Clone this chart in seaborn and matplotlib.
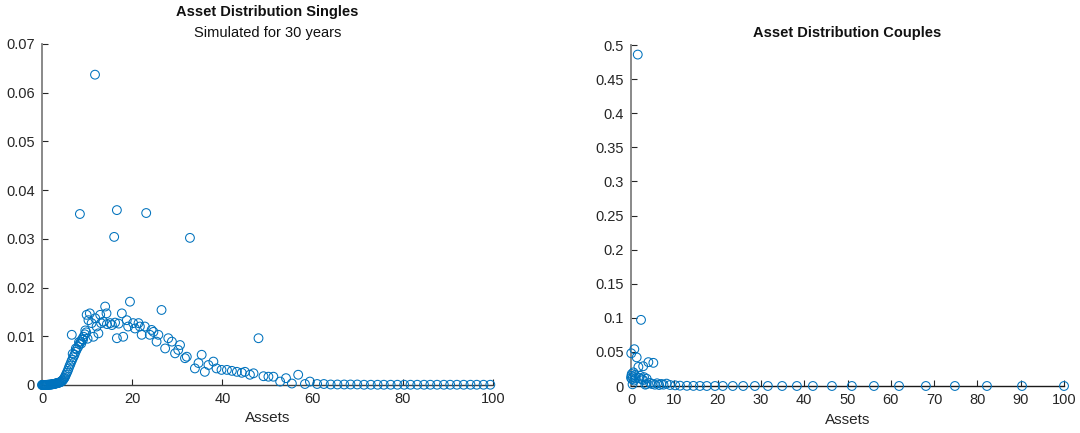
import matplotlib
matplotlib.use("Agg")
import matplotlib.pyplot as plt
import seaborn as sns
import pandas as pd

# Singles: asset grid point and share of households
singles_assets = [
    0.0, 0.08, 0.16, 0.25, 0.35, 0.45, 0.55, 0.66, 0.78, 0.9, 1.02, 1.15, 1.28, 1.42,
    1.56, 1.7, 1.85, 2.0, 2.15, 2.3, 2.45, 2.6, 2.75, 2.9, 3.05, 3.2, 3.35, 3.5, 3.65,
    3.8, 3.95, 4.1, 4.25, 4.4, 4.55, 4.7, 4.85, 5.0, 5.15, 5.3, 5.5, 5.7, 5.9, 6.1,
    6.3, 6.5, 6.7, 6.95, 7.2, 7.45, 7.7, 8.0, 8.3, 8.6, 8.9, 9.2, 9.5, 9.8,
    6.6, 6.8, 7.5, 8.2, 8.7, 9.1, 9.6, 10.1,
    9.9, 10.3, 10.6, 11.0, 11.4, 11.8, 12.1, 12.5, 12.9, 13.1, 13.6, 14.0, 14.3, 14.4,
    15.1, 15.5, 16.2, 16.6, 17.0, 17.7, 18.0, 18.8, 19.1, 19.5, 20.2, 20.6, 21.4, 21.7,
    22.1, 22.8, 23.9, 24.3, 24.7, 25.4, 25.8, 26.5, 27.3, 28.0, 28.8, 29.5, 30.2, 30.6,
    31.7, 32.1, 33.9, 34.7, 35.4, 36.1, 36.9, 38.0, 38.7, 39.8, 41.0, 42.1, 43.2, 44.3,
    45.0, 46.1, 46.9, 48.0, 49.1, 50.2, 51.3, 52.8, 54.1, 55.4, 56.8, 58.3, 59.4,
    8.4, 11.75, 16.0, 16.6, 23.1, 32.8,
    61.0, 62.5, 64.0, 65.5, 67.0, 68.4, 69.9, 71.4, 72.9, 74.4, 75.8, 77.3, 78.8, 80.3,
    81.7, 83.2, 84.7, 86.1, 87.6, 89.1, 90.5, 92.0, 93.5, 95.0, 96.4, 97.9, 99.4,
]
singles_share = [
    0.0, 0.0, 0.0, 0.0, 0.0, 0.0, 0.00001, 0.00001, 0.00002, 0.00002, 0.00002, 0.00003,
    0.00004, 0.00005, 0.00006, 0.00007, 0.00008, 0.0001, 0.00012, 0.00014, 0.00017,
    0.0002, 0.00023, 0.00026, 0.0003, 0.00034, 0.00038, 0.0004, 0.00045, 0.0005,
    0.00055, 0.0006, 0.0007, 0.0008, 0.0009, 0.0011, 0.0013, 0.0015, 0.0018, 0.0021,
    0.0025, 0.0029, 0.0034, 0.0039, 0.0043, 0.0048, 0.0052, 0.0057, 0.0062, 0.0068,
    0.0073, 0.0078, 0.0084, 0.0089, 0.0094, 0.0099, 0.0104, 0.0108,
    0.0103, 0.0064, 0.0075, 0.0088, 0.0085, 0.0093, 0.0112, 0.0095,
    0.0144, 0.0133, 0.0147, 0.0127, 0.0099, 0.0137, 0.0120, 0.0106, 0.0144, 0.0127,
    0.0130, 0.0161, 0.0147, 0.0125, 0.0127, 0.0123, 0.0128, 0.0096, 0.0126, 0.0147,
    0.0099, 0.0133, 0.0120, 0.0171, 0.0127, 0.0116, 0.0127, 0.0120, 0.0103, 0.0120,
    0.0103, 0.0113, 0.0109, 0.0089, 0.0103, 0.0154, 0.0075, 0.0096, 0.0089, 0.0065,
    0.0072, 0.0082, 0.0055, 0.0058, 0.0034, 0.0045, 0.0062, 0.0027, 0.0041, 0.0048,
    0.0034, 0.0031, 0.0031, 0.0029, 0.0027, 0.0025, 0.0027, 0.0021, 0.0024, 0.0096,
    0.0018, 0.0017, 0.0017, 0.0007, 0.0014, 0.0003, 0.0021, 0.0002, 0.0007,
    0.0351, 0.0637, 0.0304, 0.0359, 0.0353, 0.0302,
    0.0002, 0.0002, 0.0001, 0.0001, 0.0001, 0.0001, 0.0001, 0.00005, 0.00005, 0.00005,
    0.00005, 0.00005, 0.00005, 0.00005, 0.00005, 0.00005, 0.00005, 0.00005, 0.00005,
    0.00005, 0.00005, 0.00005, 0.00005, 0.00005, 0.00005, 0.00005, 0.00005,
]

# Couples: asset grid point and share of households
couples_assets = [
    0.0, 0.05, 0.1, 0.16, 0.25, 0.35, 0.45, 0.55, 0.7, 0.76, 0.9, 1.05, 1.3, 1.55,
    1.7, 1.9, 2.1, 2.3, 2.5, 2.8, 2.8, 3.0, 3.3, 3.6, 3.6, 4.0, 4.4, 4.8, 5.15, 5.5,
    6.0, 6.5, 7.0, 7.5, 8.2, 9.0, 10.2, 11.3, 12.9, 14.4, 15.9, 17.5, 19.4, 21.2,
    23.5, 25.9, 28.6, 31.6, 34.9, 38.3, 42.0, 46.4, 51.0, 56.1, 61.9, 68.1, 74.8,
    82.2, 90.3, 100.0,
]
couples_share = [
    0.012, 0.048, 0.015, 0.0176, 0.010, 0.0025, 0.013, 0.020, 0.008, 0.054, 0.016,
    0.011, 0.042, 0.486, 0.028, 0.012, 0.015, 0.097, 0.010, 0.029, 0.0088, 0.013,
    0.002, 0.0107, 0.003, 0.035, 0.0045, 0.003, 0.034, 0.002, 0.004, 0.0015, 0.003,
    0.002, 0.0035, 0.0015, 0.001, 0.0005, 0.0003, 0.0002, 0.0001, 0.00005, 0.00005,
    0.00005, 0.00005, 0.00005, 0.00005, 0.00005, 0.00005, 0.00005, 0.00005, 0.00005,
    0.00005, 0.00005, 0.00005, 0.00005, 0.00005, 0.00005, 0.00005, 0.00005,
]

singles_xticks = [0, 20, 40, 60, 80, 100]
singles_yticks = [0, 0.01, 0.02, 0.03, 0.04, 0.05, 0.06, 0.07]
singles_yticklabels = ["0", "0.01", "0.02", "0.03", "0.04", "0.05", "0.06", "0.07"]
couples_xticks = [0, 10, 20, 30, 40, 50, 60, 70, 80, 90, 100]
couples_yticks = [0, 0.05, 0.1, 0.15, 0.2, 0.25, 0.3, 0.35, 0.4, 0.45, 0.5]
couples_yticklabels = ["0", "0.05", "0.1", "0.15", "0.2", "0.25", "0.3", "0.35",
                       "0.4", "0.45", "0.5"]

sns.set_style("white")
plt.rcParams["font.family"] = ["Liberation Sans", "DejaVu Sans"]

MARKER_COLOR = "#0072BD"
TEXT_COLOR = "#262626"

fig = plt.figure(figsize=(10.8, 4.33), dpi=100)
ax1 = fig.add_axes([0.0389, 0.1109, 0.4176, 0.7875])
ax2 = fig.add_axes([0.5843, 0.1085, 0.4009, 0.7875])

singles = pd.DataFrame({"Assets": singles_assets, "Share": singles_share})
couples = pd.DataFrame({"Assets": couples_assets, "Share": couples_share})

for ax, df in ((ax1, singles), (ax2, couples)):
    sns.scatterplot(data=df, x="Assets", y="Share", ax=ax, marker="o",
                    facecolor="none", edgecolor=MARKER_COLOR, linewidth=0.75,
                    s=40, clip_on=False, zorder=3)

ax1.set_xlim(0, 100)
ax1.set_ylim(0, 0.07)
ax1.set_xticks(singles_xticks)
ax1.set_yticks(singles_yticks)
ax1.set_yticklabels(singles_yticklabels)

ax2.set_xlim(0, 100)
ax2.set_ylim(0, 0.5)
ax2.set_xticks(couples_xticks)
ax2.set_yticks(couples_yticks)
ax2.set_yticklabels(couples_yticklabels)

for ax in (ax1, ax2):
    for side in ("top", "right"):
        ax.spines[side].set_visible(False)
    ax.spines["left"].set_color("#808080")
    ax.spines["left"].set_linewidth(1.3)
    ax.spines["bottom"].set_linewidth(1.0)
    ax.tick_params(bottom=True, left=True, direction="in", length=4, width=0.8,
                   colors=TEXT_COLOR, labelsize=10.5, pad=5)
    ax.set_xlabel("Assets", fontsize=11, color=TEXT_COLOR, labelpad=4)
    ax.set_ylabel("")

ax1.spines["bottom"].set_color("#404040")
ax2.spines["bottom"].set_color("#1a1a1a")

fig.text(0.2477, 0.972, "Asset Distribution Singles", ha="center", va="center",
         fontsize=10.5, fontweight="bold", color="#111111")
fig.text(0.2477, 0.923, "Simulated for 30 years", ha="center", va="center",
         fontsize=10.5, color="#111111")
fig.text(0.7847, 0.923, "Asset Distribution Couples", ha="center", va="center",
         fontsize=10.5, fontweight="bold", color="#111111")

fig.savefig("out.png", dpi=100)
